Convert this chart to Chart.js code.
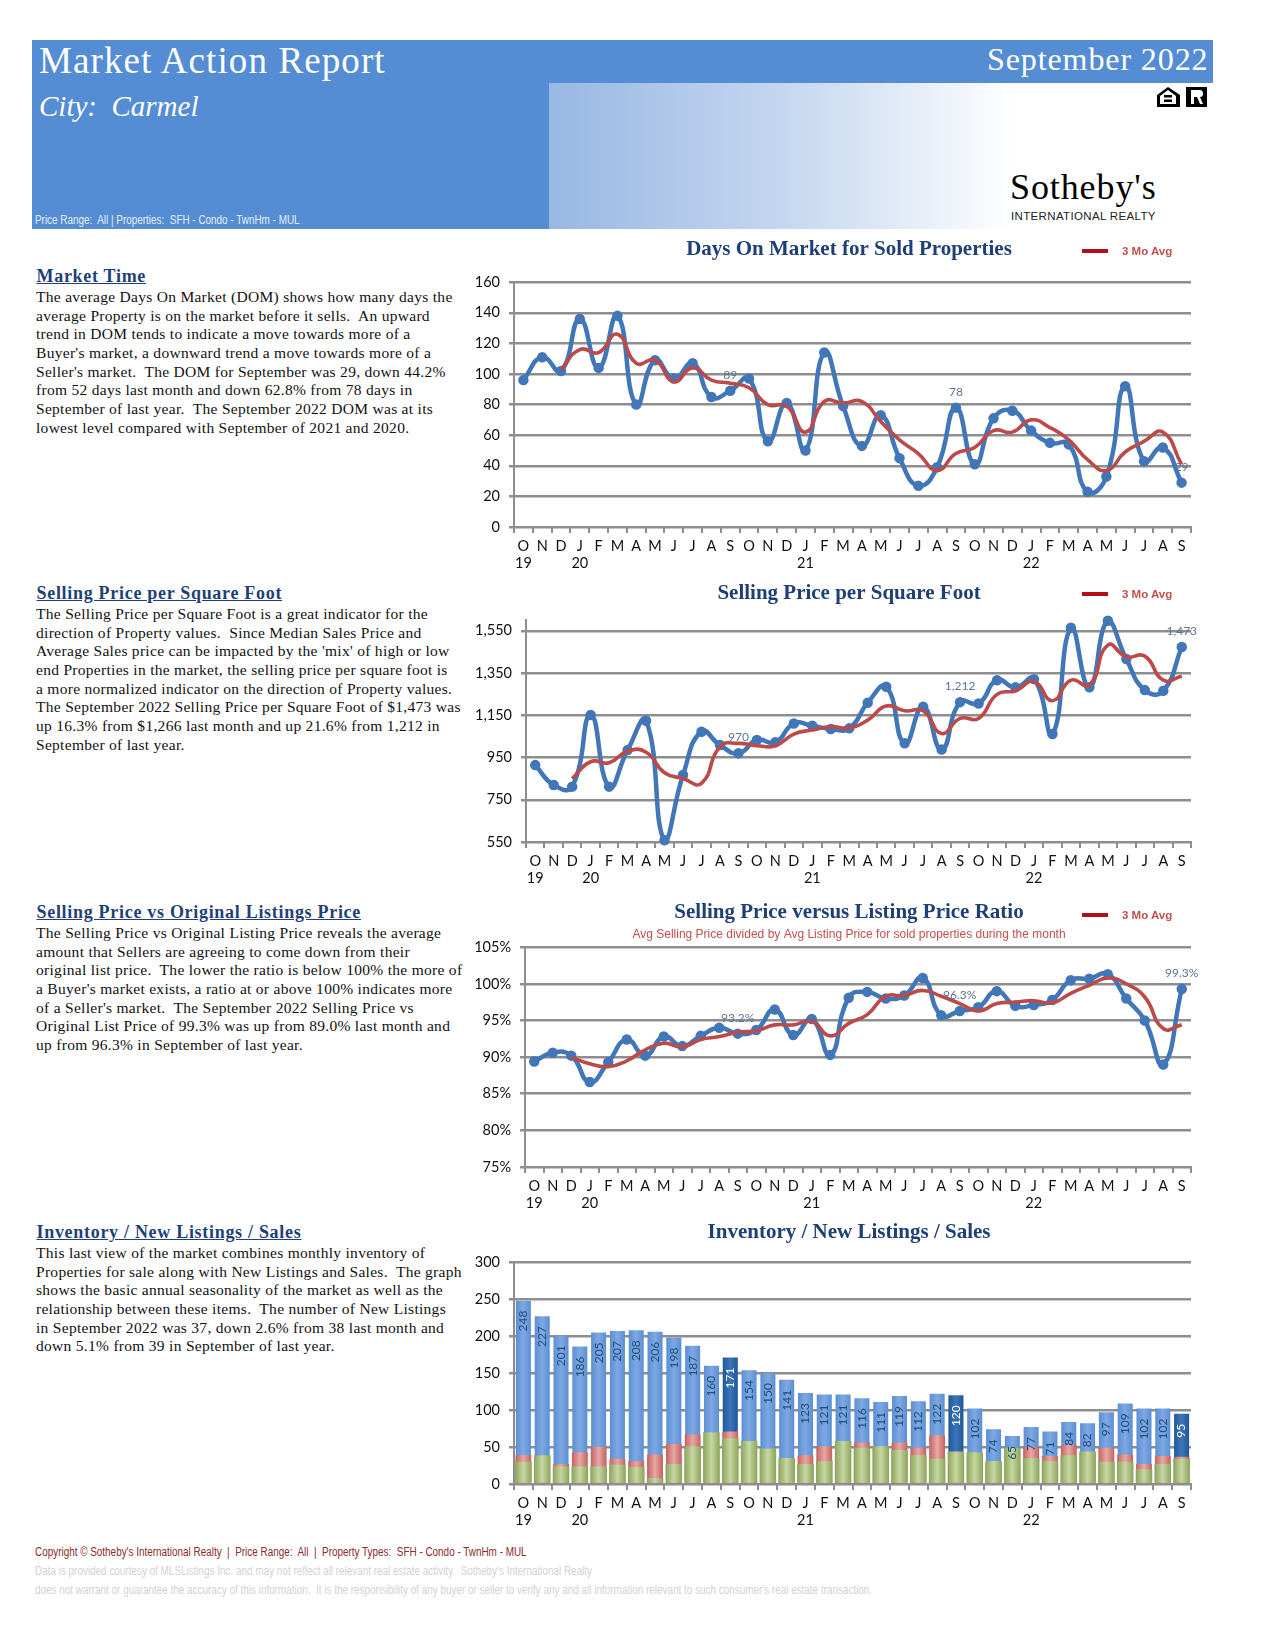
<!DOCTYPE html>
<html>
<head>
<meta charset="utf-8">
<title>Market Action Report</title>
<script src="https://cdn.jsdelivr.net/npm/chart.js@4"></script>
<style>
html, body { margin: 0; padding: 0; background: #fff; }
#page { position: relative; width: 1275px; height: 1650px; overflow: hidden; }
#page > * { position: absolute; }
canvas { left: 470px; }
.band { background: #548dd4; }
.head { color: #fff; font-family: "Liberation Serif", serif; white-space: pre; line-height: 1; }
.narrow { font-family: "Liberation Sans", sans-serif; white-space: pre; line-height: 1; transform: scaleX(0.826); transform-origin: left center; }
.sec { left: 36.5px; color: #1f3f77; font: bold 18px "Liberation Serif", serif; text-decoration: underline; white-space: pre; line-height: 20px; letter-spacing: 0.7px; }
.para { left: 36px; color: #111; font: 15.5px/18.65px "Liberation Serif", serif; white-space: pre; letter-spacing: 0.29px; }
.swatch { left: 1082px; width: 26px; height: 4px; background: #b01116; }
.lgd { left: 1122px; color: #c0504d; font: bold 11.5px "Liberation Sans", sans-serif; white-space: pre; line-height: 14px; }
</style>
</head>
<body>
<div id="page">
  <div class="band" style="left:32px;top:40px;width:1181px;height:43px"></div>
  <div class="band" style="left:32px;top:83px;width:517px;height:146px"></div>
  <div style="left:549px;top:83px;width:466px;height:146px;background:linear-gradient(90deg,#98b7e3,#c9daf1 55%,#fff)"></div>

  <div class="head" style="left:39px;top:42px;font-size:37px;letter-spacing:1.1px">Market Action Report</div>
  <div class="head" style="left:987px;top:43px;font-size:32px;letter-spacing:0.9px">September 2022</div>
  <div class="head" style="left:39px;top:92px;font-size:29px;font-style:italic">City:  Carmel</div>
  <div class="narrow" style="left:35px;top:214px;font-size:12px;color:#e4edf9">Price Range:  All | Properties:  SFH - Condo - TwnHm - MUL</div>

  <svg style="left:1156px;top:86px" width="52" height="22" viewBox="0 0 52 22">
    <path d="M12 1 L24 9 V21 H1 V9 Z M12 4 L4 10 V18 H20 V10 Z" fill="#000" fill-rule="evenodd"/>
    <rect x="8" y="9" width="8" height="2.5"/><rect x="8" y="13.5" width="8" height="2.5"/>
    <rect x="30" y="1" width="21" height="20" fill="#000"/>
    <path d="M35 4 H44 Q47 4 47 8 Q47 11 44 11 L47 18 H44 L41 11 H38 V18 H35 Z" fill="#fff"/>
  </svg>
  <div style="left:1010px;top:169px;color:#000;font:36px/1 'Liberation Serif',serif;white-space:pre;letter-spacing:0.9px">Sotheby's</div>
  <div style="left:1011px;top:211px;color:#222;font:11.5px/1 'Liberation Sans',sans-serif;white-space:pre;letter-spacing:0.35px">INTERNATIONAL REALTY</div>

  <div class="sec" style="top:266px">Market Time</div>
  <div class="para" style="top:288px">The average Days On Market (DOM) shows how many days the
average Property is on the market before it sells.  An upward
trend in DOM tends to indicate a move towards more of a
Buyer's market, a downward trend a move towards more of a
Seller's market.  The DOM for September was 29, down 44.2%
from 52 days last month and down 62.8% from 78 days in
September of last year.  The September 2022 DOM was at its
lowest level compared with September of 2021 and 2020.</div>

  <div class="sec" style="top:583px">Selling Price per Square Foot</div>
  <div class="para" style="top:605px">The Selling Price per Square Foot is a great indicator for the
direction of Property values.  Since Median Sales Price and
Average Sales price can be impacted by the 'mix' of high or low
end Properties in the market, the selling price per square foot is
a more normalized indicator on the direction of Property values.
The September 2022 Selling Price per Square Foot of $1,473 was
up 16.3% from $1,266 last month and up 21.6% from 1,212 in
September of last year.</div>

  <div class="sec" style="top:902px">Selling Price vs Original Listings Price</div>
  <div class="para" style="top:924px">The Selling Price vs Original Listing Price reveals the average
amount that Sellers are agreeing to come down from their
original list price.  The lower the ratio is below 100% the more of
a Buyer's market exists, a ratio at or above 100% indicates more
of a Seller's market.  The September 2022 Selling Price vs
Original List Price of 99.3% was up from 89.0% last month and
up from 96.3% in September of last year.</div>

  <div class="sec" style="top:1222px">Inventory / New Listings / Sales</div>
  <div class="para" style="top:1244px">This last view of the market combines monthly inventory of
Properties for sale along with New Listings and Sales.  The graph
shows the basic annual seasonality of the market as well as the
relationship between these items.  The number of New Listings
in September 2022 was 37, down 2.6% from 38 last month and
down 5.1% from 39 in September of last year.</div>

  <canvas id="domChart" width="758" height="345" style="top:230px"></canvas>
  <canvas id="priceChart" width="758" height="315" style="top:575px"></canvas>
  <canvas id="ratioChart" width="758" height="326" style="top:890px"></canvas>
  <canvas id="invChart" width="758" height="320" style="top:1212px"></canvas>

  <div class="swatch" style="top:249px"></div><div class="lgd" style="top:244px">3 Mo Avg</div>
  <div class="swatch" style="top:592px"></div><div class="lgd" style="top:587px">3 Mo Avg</div>
  <div class="swatch" style="top:913px"></div><div class="lgd" style="top:908px">3 Mo Avg</div>

  <div class="narrow" style="left:35px;top:1546px;font-size:12px;color:#8c2a2e">Copyright © Sotheby's International Realty  |  Price Range:  All  |  Property Types:  SFH - Condo - TwnHm - MUL</div>
  <div class="narrow" style="left:35px;top:1565px;font-size:12px;color:#d2d2d2">Data is provided courtesy of MLSListings Inc. and may not reflect all relevant real estate activity.  Sotheby's International Realty</div>
  <div class="narrow" style="left:35px;top:1584px;font-size:12px;color:#d2d2d2">does not warrant or guarantee the accuracy of this information.  It is the responsibility of any buyer or seller to verify any and all information relevant to such consumer's real estate transaction.</div>
</div>

<script>
// x axis, Oct 2019 to Sep 2022
const months = ['O','N','D','J','F','M','A','M','J','J','A','S','O','N','D','J','F','M','A','M','J','J','A','S','O','N','D','J','F','M','A','M','J','J','A','S'];
const years = ['19','','','20','','','','','','','','','','','','21','','','','','','','','','','','','22','','','','','','','',''];

// Days on market
const domValues = [96,111,102,136,104,138,80,109,97,107,85,89,97,56,81,50,114,79,53,73,45,27,39,78,41,71,76,63,55,54,23,33,92,43,52,29];
const domAvg = [null,null,103,116,114,126,107,109,95,104,96,94,91,80,79,62,82,81,82,69,57,48,37,48,52,63,62,70,65,57,44,37,49,56,62,41];
const domTicks = [0,20,40,60,80,100,120,140,160];

// Selling price per square foot
const priceValues = [914,820,812,1151,812,985,1124,558,867,1072,1009,970,1033,1022,1111,1100,1085,1088,1209,1285,1017,1190,988,1212,1206,1316,1282,1321,1061,1564,1282,1597,1416,1269,1266,1473];
const priceAvg = [null,null,850,930,925,980,975,878,851,828,1001,1017,1006,1006,1061,1080,1096,1091,1127,1194,1171,1171,1064,1135,1135,1249,1266,1309,1219,1316,1293,1482,1427,1430,1316,1335];
const priceTicks = [550,750,950,1150,1350,1550];

// Selling price / listing price ratio
const ratioValues = [89.4,90.6,90.2,86.6,89.3,92.4,90.2,92.8,91.5,92.9,94.0,93.2,93.7,96.5,93.0,95.2,90.3,98.1,98.9,98.0,98.4,100.8,95.7,96.3,96.8,99.0,97.0,97.1,97.8,100.5,100.7,101.3,98.0,95.0,89.0,99.3];
const ratioAvg = [null,null,90.0,89.1,88.7,89.5,91.0,91.9,91.4,92.4,92.8,93.4,93.6,94.4,94.4,94.9,92.9,94.6,95.8,98.3,98.4,99.1,98.3,97.3,96.3,97.3,97.5,97.7,97.4,98.7,99.8,100.8,100.0,98.2,93.9,94.4];
const ratioTicks = [75,80,85,90,95,100,105];

// Inventory / new listings / sales
const inventory = [248,227,201,186,205,207,208,206,198,187,160,171,154,150,141,123,121,121,116,111,119,112,122,120,102,74,65,77,71,84,82,97,109,102,102,95];
const newListings = [39,38,27,43,50,34,31,40,54,67,51,71,55,39,34,39,51,55,56,48,56,49,66,39,38,25,24,50,38,53,43,49,40,27,38,37];
const sales = [30,39,24,24,24,26,23,8,27,51,70,62,58,48,35,27,31,58,49,51,46,39,34,44,43,31,49,35,31,39,44,30,30,20,27,34];
const invTicks = [0,50,100,150,200,250,300];

// points that carry a value label on the line charts
const labeledPoints = [11,23,35];

const categories = months.map((m, i) => [m, years[i]]);

Chart.defaults.animation = false;
Chart.defaults.font.family = 'Lato, "Noto Sans", sans-serif';
Chart.defaults.plugins.legend.display = false;
Chart.defaults.plugins.tooltip.enabled = false;

// there is no datalabels plugin here, so labels are drawn from the elements
const valueLabels = {
	id: 'valueLabels',
	afterDatasetsDraw(chart, args, opts) {
		const ctx = chart.ctx;
		const points = chart.getDatasetMeta(opts.dataset).data;
		const values = chart.data.datasets[opts.dataset].data;
		ctx.save();
		ctx.font = opts.font;
		points.forEach((el, i) => {
			if (opts.only && !opts.only.includes(i)) return;
			ctx.save();
			ctx.fillStyle = months[i] === 'S' && opts.darkColor ? opts.darkColor : opts.color;
			if (opts.rotated) {
				ctx.translate(el.x, el.y + 10);
				ctx.rotate(-Math.PI / 2);
				ctx.textAlign = 'right';
				ctx.textBaseline = 'middle';
				ctx.fillText(opts.format(values[i]), 0, 0);
			} else {
				ctx.textAlign = 'center';
				ctx.textBaseline = 'middle';
				ctx.fillText(opts.format(values[i]), el.x, el.y - 16);
			}
			ctx.restore();
		});
		ctx.restore();
	}
};

// title and subtitle centre on the whole canvas, not on the padded part
const centreTitles = {
	id: 'centreTitles',
	afterLayout(chart) {
		chart.boxes.forEach(b => {
			if (b.position === 'top' && b.fullSize) {
				b.left = 0;
				b.right = chart.width;
			}
		});
	}
};

function xAxis(height) {
	return {
		offset: true,
		afterFit: s => { s.height = height; },
		border: { color: '#8e8e8e', width: 2 },
		grid: { offset: true, drawOnChartArea: false, color: '#8e8e8e', lineWidth: 2, tickLength: 6 },
		ticks: { autoSkip: false, maxRotation: 0, minRotation: 0, padding: 4, color: '#111', font: { size: 14.5, lineHeight: 1.22 } }
	};
}

function yAxis(width, min, max, tickList, fmt) {
	return {
		min: min,
		max: max,
		afterFit: s => { s.width = width; },
		afterBuildTicks: s => { s.ticks = tickList.map(v => ({ value: v })); },
		border: { color: '#8e8e8e', width: 2 },
		grid: { color: '#8e8e8e', lineWidth: 2.5, tickLength: 5 },
		ticks: { padding: 9, color: '#111', font: { size: 14.5 }, callback: fmt }
	};
}

function titleOf(text, top, bottom) {
	return { display: true, text: text, color: '#1f3f77', font: { family: '"Liberation Serif", serif', size: 21, weight: 'bold', lineHeight: 1.2 }, padding: { top: top, bottom: bottom } };
}

const pagePadding = { right: 37, top: 0, bottom: 0, left: 0 };

function lineChart(id, cfg) {
	return new Chart(document.getElementById(id), {
		type: 'line',
		data: {
			labels: categories,
			datasets: [
				{ label: 'Value', data: cfg.values, borderColor: '#4177b9', backgroundColor: '#4177b9', borderWidth: 4.5, pointRadius: 3, pointHoverRadius: 3, tension: 0.5, order: 2, clip: false },
				{ label: '3 Mo Avg', data: cfg.avg, borderColor: '#bc4a48', borderWidth: 3.6, pointRadius: 0, tension: 0.5, order: 1 }
			]
		},
		options: {
			responsive: false,
			devicePixelRatio: 1,
			layout: { padding: pagePadding },
			scales: { x: xAxis(cfg.xHeight), y: yAxis(cfg.yWidth, cfg.min, cfg.max, cfg.ticks, cfg.fmt) },
			plugins: {
				title: cfg.title,
				subtitle: cfg.subtitle || { display: false },
				valueLabels: { dataset: 0, only: labeledPoints, color: '#5b7595', font: '12px Lato', format: cfg.fmt }
			}
		},
		plugins: [valueLabels, centreTitles]
	});
}

lineChart('domChart', {
	values: domValues, avg: domAvg, ticks: domTicks, min: 0, max: 160,
	yWidth: 44, xHeight: 48,
	fmt: v => String(v),
	title: titleOf('Days On Market for Sold Properties', 7, 20)
});

lineChart('priceChart', {
	values: priceValues, avg: priceAvg, ticks: priceTicks, min: 550, max: 1600,
	yWidth: 56, xHeight: 48,
	fmt: v => v.toLocaleString('en-US'),
	title: titleOf('Selling Price per Square Foot', 6, 14)
});

lineChart('ratioChart', {
	values: ratioValues, avg: ratioAvg, ticks: ratioTicks, min: 75, max: 105,
	yWidth: 55, xHeight: 49,
	fmt: v => (Number.isInteger(v) ? v : v.toFixed(1)) + '%',
	title: titleOf('Selling Price versus Listing Price Ratio', 10, 0),
	subtitle: { display: true, text: 'Avg Selling Price divided by Avg Listing Price for sold properties during the month', color: '#c0504d', font: { family: '"Liberation Sans", sans-serif', size: 12, lineHeight: 1.2 }, padding: { top: 2, bottom: 5.6 } }
});

// cylinder shading across one bar
function barFill(edge, mid, halfWidth) {
	return c => {
		const x = c.chart.scales.x;
		const px = x ? x.getPixelForValue(c.dataIndex) : NaN;
		if (!Number.isFinite(px)) return mid;
		const g = c.chart.ctx.createLinearGradient(px - halfWidth, 0, px + halfWidth, 0);
		g.addColorStop(0, edge);
		g.addColorStop(0.5, mid);
		g.addColorStop(1, edge);
		return g;
	};
}

const blueFill = barFill('#5a8dd3', '#7ea8e2', 8);
const darkFill = barFill('#1f5596', '#3c76b8', 8);

new Chart(document.getElementById('invChart'), {
	type: 'bar',
	data: {
		labels: categories,
		datasets: [
			{ label: 'Inventory', data: inventory, grouped: false, order: 3, barPercentage: 0.8, categoryPercentage: 1,
				backgroundColor: c => (months[c.dataIndex] === 'S' ? darkFill(c) : blueFill(c)) },
			{ label: 'New Listings', data: newListings, grouped: false, order: 2, barPercentage: 0.84, categoryPercentage: 1,
				backgroundColor: barFill('#c4615f', '#e8a7a4', 8) },
			{ label: 'Sales', data: sales, grouped: false, order: 1, barPercentage: 0.88, categoryPercentage: 1,
				backgroundColor: barFill('#8aa25a', '#c6d7a1', 8.5) }
		]
	},
	options: {
		responsive: false,
		devicePixelRatio: 1,
		layout: { padding: pagePadding },
		scales: { x: xAxis(48), y: yAxis(44, 0, 300, invTicks, v => String(v)) },
		plugins: {
			title: titleOf('Inventory / New Listings / Sales', 8, 17),
			valueLabels: { dataset: 0, rotated: true, color: '#1f4e79', darkColor: '#fff', font: '12px Lato', format: v => String(v) }
		}
	},
	plugins: [valueLabels, centreTitles]
});
</script>
</body>
</html>
